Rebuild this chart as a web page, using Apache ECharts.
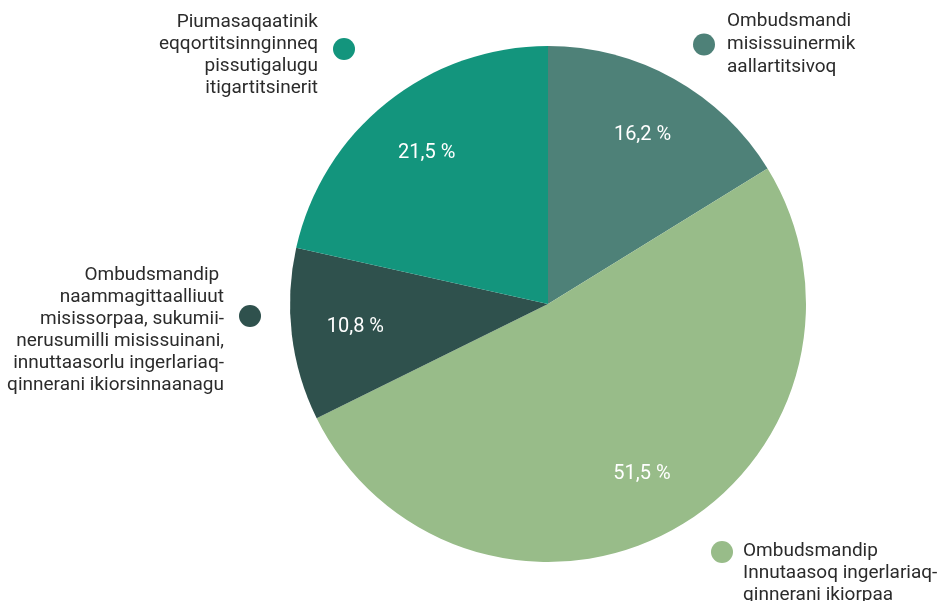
<!DOCTYPE html>
<html>
<head>
<meta charset="utf-8">
<script src="https://cdn.jsdelivr.net/npm/echarts@6/dist/echarts.min.js"></script>
<style>
html,body{margin:0;padding:0;background:#fff;}
#chart{width:942px;height:601px;}
</style>
</head>
<body>
<div id="chart"></div>
<script>
const categories = [
  'Ombudsmandi\nmisissuinermik\naallartitsivoq',
  'Ombudsmandip\nInnutaasoq ingerlariaq-\nqinnerani ikiorpaa',
  'Ombudsmandip \nnaammagittaalliuut\nmisissorpaa, sukumii-\nnerusumilli misissuinani,\ninnuttaasorlu ingerlariaq-\nqinnerani ikiorsinnaanagu',
  'Piumasaqaatinik\neqqortitsinnginneq\npissutigalugu\nitigartitsinerit'
];
const values = [16.2, 51.5, 10.8, 21.5];
const colors = ['#4e8178', '#98bc89', '#2f514d', '#13957d'];

const FONT = 'Roboto';
const data = categories.map((n, i) => ({ name: n, value: values[i], itemStyle: { color: colors[i] } }));

function legendItem(idx, pos, align, shift, lh, gap) {
  return Object.assign({
    data: [categories[idx]],
    orient: 'vertical',
    align: align,
    icon: 'circle',
    itemWidth: 22,
    itemHeight: 22,
    padding: 0,
    selectedMode: false,
    formatter: name => (shift > 0 ? '{s| }\n' : '') + name,
    textStyle: {
      fontFamily: FONT, fontSize: 19, color: '#2b2b2b', lineHeight: lh, align: align,
      padding: align === 'right' ? [0, gap, 0, 0] : [0, 0, 0, gap],
      rich: { s: { lineHeight: shift * 2, fontSize: 1 } }
    }
  }, pos);
}

const chart = echarts.init(document.getElementById('chart'), null, { renderer: 'canvas' });
chart.setOption({
  animation: false,
  legend: [
    legendItem(3, { right: 587, top: -1 }, 'right', 6, 22, 10),
    legendItem(0, { left: 693, top: 10 }, 'left', 0, 23, 7),
    legendItem(2, { right: 681, top: 236 }, 'right', 14, 22, 10),
    legendItem(1, { left: 711, top: 498 }, 'left', 21, 22, 5)
  ],
  series: [
    {
      type: 'pie',
      center: [548, 304],
      radius: [0, 258],
      startAngle: 90,
      clockwise: true,
      data: data,
      label: { show: false },
      labelLine: { show: false },
      emphasis: { disabled: true }
    },
    {
      type: 'pie',
      center: [548, 304],
      radius: [124, 258],
      startAngle: 90,
      clockwise: true,
      silent: true,
      data: data.map(d => ({ name: d.name, value: d.value, itemStyle: { color: 'rgba(0,0,0,0)' } })),
      label: {
        show: true,
        position: 'inside',
        color: '#ffffff',
        fontFamily: FONT,
        fontSize: 20,
        formatter: p => p.value.toFixed(1).replace('.', ',') + ' %'
      },
      labelLine: { show: false },
      emphasis: { disabled: true }
    }
  ]
});
</script>
</body>
</html>
